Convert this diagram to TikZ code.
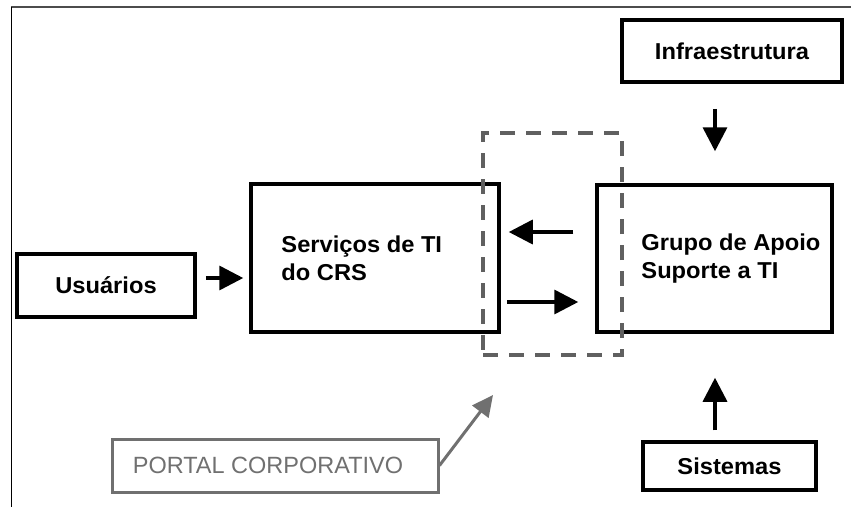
\documentclass[tikz,border=0pt]{standalone}
\usepackage{fontspec}
\setmainfont{Liberation Sans}[BoldFeatures={FakeStretch=1.03}]
\usetikzlibrary{positioning, arrows.meta}
\definecolor{cinza}{HTML}{606060}
\definecolor{cinzaclaro}{HTML}{707070}
\def\fonte{\fontsize{23}{28}\selectfont\bfseries}
\tikzstyle{caixa}=[draw, line width=3.5pt, inner sep=0pt, font=\fonte]
\tikzstyle{rotulo}=[inner sep=0pt, align=left, font=\fonte]
\tikzstyle{seta}=[line width=3.5pt, -{Triangle[length=24pt,width=24pt]}]
\tikzstyle{portal}=[draw=cinzaclaro, text=cinzaclaro, line width=3pt, inner sep=0pt, font=\fontsize{23.5}{28}\selectfont]
\tikzstyle{limite}=[draw=cinza, line width=4pt, dash pattern=on 15pt off 11pt, inner sep=0pt]
\begin{document}
\begin{tikzpicture}[x=1pt, y=1pt]
	\useasboundingbox (0,0) rectangle (851,-507);
	\draw[line width=1.5pt, black!70] (11,-7) -- (851,-7);
	\draw[line width=1pt] (11,-7) -- (11,-507);

	\node[caixa, minimum width=178pt, minimum height=63pt] (usuarios) at (106,-285.5) {Usuários};
	\node[caixa, minimum width=248pt, minimum height=148pt] (servicos) at (375,-258) {};
	\node[rotulo, right=32pt of servicos.west] (servicos texto) {Serviços de TI\\do CRS};
	\node[caixa, minimum width=235pt, minimum height=147pt] (grupo) at (714.5,-258.5) {};
	\node[rotulo, right=46pt of grupo.west] (grupo texto) {Grupo de Apoio\\Suporte a TI};
	\node[caixa, minimum width=220pt, minimum height=62pt] (infra) at (732,-51) {Infraestrutura};
	\node[caixa, minimum width=173pt, minimum height=48pt] (sistemas) at (729.5,-466) {Sistemas};
	\node[portal, minimum width=326pt, minimum height=53pt] (corporativo) at (275,-465.5) {PORTAL CORPORATIVO\hspace*{14pt}};
	\node[limite, minimum width=139pt, minimum height=222pt] (area) at (552.5,-244) {};
	\coordinate (ponta) at (493,-395);

	\draw[seta, shorten <=9pt, shorten >=6pt] ([yshift=7.5pt]usuarios.east) -- ([yshift=7.5pt]usuarios.east -| servicos.west);
	\draw[seta, shorten <=22pt, shorten >=8pt] ([yshift=26.5pt]grupo.west) -- ([yshift=26.5pt]grupo.west -| servicos.east);
	\draw[seta, shorten <=6pt, shorten >=17pt] ([yshift=-44pt]servicos.east) -- ([yshift=-44pt]servicos.east -| grupo.west);
	\draw[seta, shorten <=25pt, shorten >=32pt] ([xshift=-17pt]infra.south) -- ([xshift=-17pt]infra.south |- grupo.north);
	\draw[seta, shorten <=10pt, shorten >=44pt] ([xshift=-14.5pt]sistemas.north) -- ([xshift=-14.5pt]sistemas.north |- grupo.south);
	\draw[line width=3pt, cinzaclaro, -{Triangle[length=21pt,width=20pt]}] (corporativo.east) -- (ponta);
\end{tikzpicture}
\end{document}
